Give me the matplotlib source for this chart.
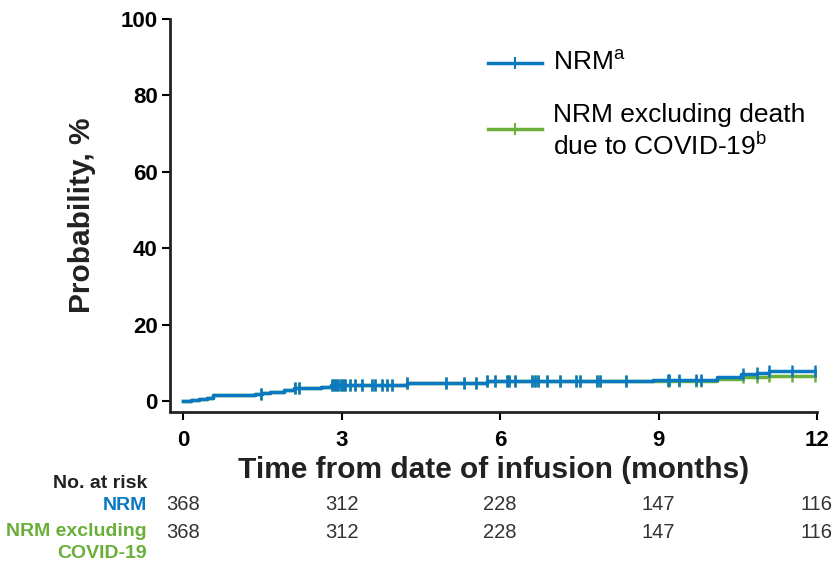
import matplotlib.pyplot as plt
from matplotlib.lines import Line2D
import numpy as np

plt.rcParams['font.family'] = ['Liberation Sans', 'DejaVu Sans']
plt.rcParams['mathtext.fontset'] = 'custom'
plt.rcParams['mathtext.rm'] = 'Liberation Sans'

BLUE = "#0b78c2"
GREEN = "#6aaf3a"

# step curves (months, cumulative %)
nrm_t = [0, 0.15, 0.3, 0.45, 0.57, 1.35, 1.5, 1.65, 1.9, 2.1, 2.6, 2.8, 4.24, 5.75, 8.9, 10.1, 10.57, 10.87, 11.1, 12]
nrm_y = [0, 0.3, 0.5, 0.9, 1.5, 1.8, 2.2, 2.5, 3.0, 3.4, 3.8, 4.2, 4.8, 5.3, 5.6, 6.3, 7.0, 7.5, 7.9, 7.9]
cov_t = [0, 0.15, 0.3, 0.45, 0.57, 1.35, 1.5, 1.65, 1.9, 2.1, 2.6, 2.8, 4.24, 5.75, 10.1, 10.57, 11.1, 12]
cov_y = [0, 0.3, 0.5, 0.9, 1.5, 1.8, 2.2, 2.5, 3.0, 3.4, 3.8, 4.2, 4.8, 5.3, 5.7, 6.3, 6.6, 6.6]

# censored times
censor = [1.48, 2.12, 2.2, 2.82, 2.86, 2.9, 2.94, 2.98, 3.02, 3.07, 3.16, 3.26, 3.39,
          3.58, 3.64, 3.77, 3.86, 3.96, 4.24, 4.98, 5.32, 5.55, 5.76, 5.91, 6.14, 6.16,
          6.29, 6.6, 6.66, 6.72, 6.89, 7.14, 7.44, 7.52, 7.84, 7.9, 8.39, 9.17, 9.19,
          9.38, 9.7, 9.81, 10.6, 10.87, 11.1, 11.53, 11.97]

risk_times = [0, 3, 6, 9, 12]
risk_nrm = [368, 312, 228, 147, 116]
risk_cov = [368, 312, 228, 147, 116]


def at(tt, yy, x):
    idx = np.searchsorted(tt, x, side='right') - 1
    return np.array(yy)[idx]


W, H = 833, 561
fig = plt.figure(figsize=(W / 100, H / 100), dpi=100)
ax = fig.add_axes([170 / W, 1 - 411.5 / H, (817 - 170) / W, (411.5 - 19) / H])

for tt, yy, col in [(cov_t, cov_y, GREEN), (nrm_t, nrm_y, BLUE)]:
    ax.step(tt, yy, where='post', color=col, lw=2.5)
    ax.plot(censor, at(tt, yy, censor), linestyle='none', marker='|', color=col,
            markersize=8, markeredgewidth=1.8)

ax.set_xlim(-0.25, 12)
ax.set_ylim(-2.7, 100)
ax.set_xticks(risk_times)
ax.set_yticks([0, 20, 40, 60, 80, 100])
for s in ['top', 'right']:
    ax.spines[s].set_visible(False)
for s in ['left', 'bottom']:
    ax.spines[s].set_linewidth(2)
    ax.spines[s].set_color('#222222')
ax.tick_params(axis='x', length=6, width=1.5, labelsize=16, pad=7)
ax.tick_params(axis='y', length=6, width=1.5, labelsize=16, pad=3)
for lbl in ax.get_xticklabels() + ax.get_yticklabels():
    lbl.set_fontweight('bold')

fig.text(493.5 / W, 1 - 478 / H, "Time from date of infusion (months)", ha='center',
         va='baseline', fontsize=21.5, fontweight='bold', color='#222222')
ax.set_ylabel("Probability, %", fontsize=21.5, fontweight='bold', color='#222222')
ax.yaxis.set_label_coords((96 - 170) / 647, 0.5)

# legend drawn by hand
for ly, col in [(62.7, BLUE), (129, GREEN)]:
    fig.add_artist(Line2D([488 / W, 542 / W], [1 - ly / H] * 2, color=col, lw=2.5))
    fig.add_artist(Line2D([515 / W], [1 - ly / H], color=col, marker='|', markersize=9,
                          markeredgewidth=1.5))
fig.text(553 / W, 1 - 62 / H, "NRM$^{\\rm a}$", ha='left', va='center', fontsize=19)
fig.text(553 / W, 1 - 115 / H, "NRM excluding death", ha='left', va='center', fontsize=19)
fig.text(553 / W, 1 - 146 / H, "due to COVID-19$^{\\rm b}$", ha='left', va='center', fontsize=19)

# number at risk table
fig.text(147 / W, 1 - 483 / H, "No. at risk", ha='right', va='center', fontsize=14,
         fontweight='bold', color='#222222')
fig.text(147 / W, 1 - 505 / H, "NRM", ha='right', va='center', fontsize=14,
         fontweight='bold', color=BLUE)
fig.text(147 / W, 1 - 532 / H, "NRM excluding", ha='right', va='center', fontsize=14,
         fontweight='bold', color=GREEN)
fig.text(147 / W, 1 - 553 / H, "COVID-19", ha='right', va='center', fontsize=14,
         fontweight='bold', color=GREEN)
trans = ax.get_xaxis_transform()
span = 411.5 - 19
for t, a, b in zip(risk_times, risk_nrm, risk_cov):
    ax.text(t, -(505 - 411.5) / span, str(a), transform=trans, ha='center', va='center',
            fontsize=14.5, color='#333333', clip_on=False)
    ax.text(t, -(532 - 411.5) / span, str(b), transform=trans, ha='center', va='center',
            fontsize=14.5, color='#333333', clip_on=False)

fig.savefig("out.png", dpi=100)
